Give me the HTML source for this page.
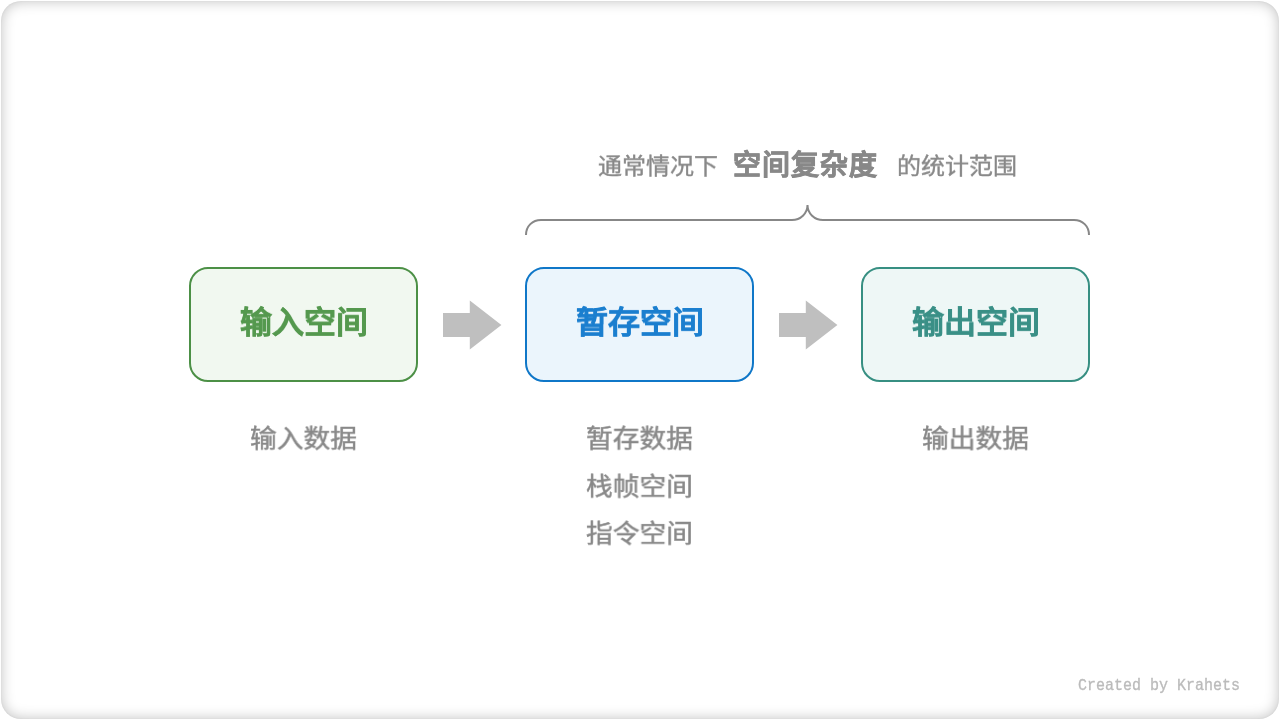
<!DOCTYPE html>
<html lang="zh-CN">
<head>
<meta charset="utf-8">
<style>
html,body{margin:0;padding:0;background:#fff;}
body{width:1280px;height:720px;position:relative;overflow:hidden;font-family:"Liberation Sans",sans-serif;}
.frame{position:absolute;left:1px;top:1px;width:1278px;height:718px;border-radius:20px;box-shadow:inset 0 0 14px rgba(0,0,0,0.25),inset 0 0 2px rgba(0,0,0,0.06);background:#fff;}
svg{position:absolute;left:0;top:0;}
.t{position:absolute;white-space:nowrap;line-height:1;will-change:transform;}
.g{color:#888888;-webkit-text-stroke:0.4px #888888;}
.title{font-size:24px;top:155.3px;transform:scaleY(0.955);transform-origin:0 0;}
.big{font-size:28px;font-weight:bold;top:151.7px;-webkit-text-stroke:0.6px #888888;letter-spacing:1.1px;}
.lbl{font-size:32px;font-weight:bold;-webkit-text-stroke:0.5px currentColor;transform:scaleY(0.965);transform-origin:0 0;}
.sub{font-size:27px;color:#888888;-webkit-text-stroke:0.5px #888888;transform:scale(0.99,0.94);transform-origin:0 0;}
.cr{font-family:"Liberation Mono",monospace;font-size:15px;color:#bbbbbb;-webkit-text-stroke:0.3px #bbbbbb;left:1078px;top:679px;transform:scaleY(1.07);transform-origin:0 12px;}
</style>
</head>
<body>
<div class="frame"></div>
<svg width="1280" height="720" viewBox="0 0 1280 720">
  <rect x="190" y="268" width="227" height="113" rx="18" ry="18" fill="#f1f8f0" stroke="#4c9046" stroke-width="2"/>
  <rect x="526" y="268" width="227" height="113" rx="18" ry="18" fill="#ebf5fc" stroke="#0f77c8" stroke-width="2"/>
  <rect x="862" y="268" width="227" height="113" rx="18" ry="18" fill="#eef7f6" stroke="#378f82" stroke-width="2"/>
  <polygon points="443,313 469.8,313 469.8,300.5 501.4,325 469.8,349.5 469.8,337 443,337" fill="#bfbfbf"/>
  <polygon points="779,313 805.8,313 805.8,300.5 837.4,325 805.8,349.5 805.8,337 779,337" fill="#bfbfbf"/>
  <path d="M526,235 C526,226 532.5,220 541,220 L792,220 C800.5,220 807.5,213.5 807.5,205 C807.5,213.5 814.5,220 823,220 L1074,220 C1082.5,220 1089,226 1089,235" fill="none" stroke="#878787" stroke-width="2"/>
</svg>
<div class="t title g" style="left:597.8px;">通常情况下</div>
<div class="t big g" style="left:733px;">空间复杂度</div>
<div class="t title g" style="left:896.8px;">的统计范围</div>
<div class="t lbl" style="left:240px;top:307px;color:#55994f;">输入空间</div>
<div class="t lbl" style="left:576px;top:307px;color:#1b7fcf;">暂存空间</div>
<div class="t lbl" style="left:912px;top:307px;color:#3a9087;">输出空间</div>
<div class="t sub" style="left:250px;top:426.6px;">输入数据</div>
<div class="t sub" style="left:586px;top:426.6px;">暂存数据</div>
<div class="t sub" style="left:586px;top:474.5px;">栈帧空间</div>
<div class="t sub" style="left:586px;top:522px;">指令空间</div>
<div class="t sub" style="left:922px;top:426.6px;">输出数据</div>
<div class="t cr">Created by Krahets</div>
</body>
</html>
